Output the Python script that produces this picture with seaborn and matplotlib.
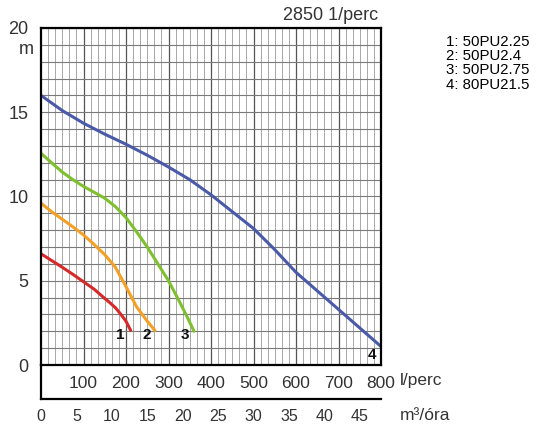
import numpy as np
import pandas as pd
import seaborn as sns
import matplotlib.pyplot as plt

# pump curves: flow in l/perc, head in m
q1 = [0, 25, 50, 75, 100, 125, 150, 162, 175, 186, 200, 211]
h1 = [6.6, 6.2, 5.8, 5.38, 4.94, 4.5, 3.95, 3.7, 3.4, 3.07, 2.6, 2.05]

q2 = [0, 25, 50, 75, 100, 125, 150, 175, 200, 225, 250, 268]
h2 = [9.6, 9.1, 8.65, 8.2, 7.72, 7.15, 6.55, 5.8, 4.65, 3.45, 2.6, 2.05]

q3 = [0, 25, 50, 75, 100, 125, 150, 175, 200, 225, 250, 275, 300, 325, 345, 360]
h3 = [12.56, 12.0, 11.45, 11.0, 10.6, 10.25, 9.9, 9.4, 8.75, 7.9, 7.0, 6.0, 5.0, 3.8, 2.8, 2.0]

q4 = [0, 50, 100, 150, 200, 250, 300, 350, 400, 450, 500, 550, 600, 650, 700, 750, 800]
h4 = [16.0, 15.1, 14.35, 13.7, 13.1, 12.45, 11.75, 11.0, 10.1, 9.1, 8.1, 6.85, 5.5, 4.4, 3.3, 2.2, 1.1]

pumps = ["1", "2", "3", "4"]
models = ["50PU2.25", "50PU2.4", "50PU2.75", "80PU21.5"]
colors = ["#d42a2a", "#f2a126", "#7fbf30", "#4a5aa8"]
label_q = [187, 249, 339, 779]
label_h = [1.78, 1.78, 1.78, 0.6]

lpm_ticks = [100, 200, 300, 400, 500, 600, 700, 800]
m3h_ticks = [0, 5, 10, 15, 20, 25, 30, 35, 40, 45]
h_ticks = [0, 5, 10, 15, 20]

frames = []
for p, q, h in zip(pumps, [q1, q2, q3, q4], [h1, h2, h3, h4]):
    frames.append(pd.DataFrame({"q": q, "h": h, "pump": p}))
df = pd.concat(frames, ignore_index=True)

sns.set_style("white")
plt.rcParams["font.family"] = ["Liberation Sans", "DejaVu Sans"]
txt = "#333333"

W, H = 544, 430
fig = plt.figure(figsize=(W / 100, H / 100), dpi=100)
L, R, T, B, B2 = 41, 381, 28, 365, 399
ax = fig.add_axes([L / W, 1 - B / H, (R - L) / W, (B - T) / H])
ax2 = fig.add_axes([L / W, 1 - B2 / H, (R - L) / W, (B2 - B) / H])

# grid: light minor verticals (1 m3/h), darker majors every 100 l/perc, 1 m horizontals
ax.set_xlim(0, 800)
ax.set_ylim(0, 20)
ax.set_xticks(lpm_ticks)
ax.set_xticks(np.arange(0, 800, 100 / 6), minor=True)
ax.set_yticks(h_ticks)
ax.set_yticks(range(0, 21), minor=True)
ax.grid(which="minor", axis="x", color="#a8a8a8", lw=0.7)
ax.grid(which="major", axis="x", color="#555555", lw=0.9)
ax.grid(which="both", axis="y", color="#7a7a7a", lw=0.8)
ax.set_axisbelow(True)

sns.lineplot(data=df, x="q", y="h", hue="pump", palette=colors, lw=2.2,
             legend=False, sort=False, estimator=None, ax=ax)
for p, x, y in zip(pumps, label_q, label_h):
    ax.text(x, y, p, ha="center", va="center", fontsize=11, fontweight="bold", color="#111111")

ax.set_xlabel("")
ax.set_ylabel("")
ax.tick_params(which="both", length=0)
ax.tick_params(axis="x", pad=8, labelsize=12.5, labelcolor=txt)
ax.tick_params(axis="y", pad=9, labelsize=13, labelcolor=txt)
for s in ax.spines.values():
    s.set_color("black")
    s.set_linewidth(1.6)
ax.text(-0.022, 18.75, "m", transform=ax.get_yaxis_transform(), ha="right", va="center",
        fontsize=13, color=txt)

ax2.set_xlim(0, 48)
ax2.set_ylim(0, 1)
ax2.set_xticks(m3h_ticks)
ax2.set_yticks([])
ax2.tick_params(axis="x", length=3, width=1, pad=4, labelsize=11.5, labelcolor=txt)
ax2.spines["top"].set_visible(False)
ax2.spines["right"].set_visible(False)
for s in ["left", "bottom"]:
    ax2.spines[s].set_color("black")
    ax2.spines[s].set_linewidth(1.6)
ax2.patch.set_alpha(0)

fig.text(400 / W, 1 - 380 / H, "l/perc", ha="left", va="center", fontsize=12.5, color=txt)
fig.text(400 / W, 1 - 415 / H, "m³/óra", ha="left", va="center", fontsize=12.5, color=txt)
fig.text(378 / W, 1 - 15 / H, "2850 1/perc", ha="right", va="center", fontsize=13, color=txt)
for i, (p, m) in enumerate(zip(pumps, models)):
    fig.text(446 / W, 1 - (42 + 14.2 * i) / H, f"{p}: {m}", ha="left", va="center",
             fontsize=10.8, color="black")

fig.savefig("out.png", dpi=100)
